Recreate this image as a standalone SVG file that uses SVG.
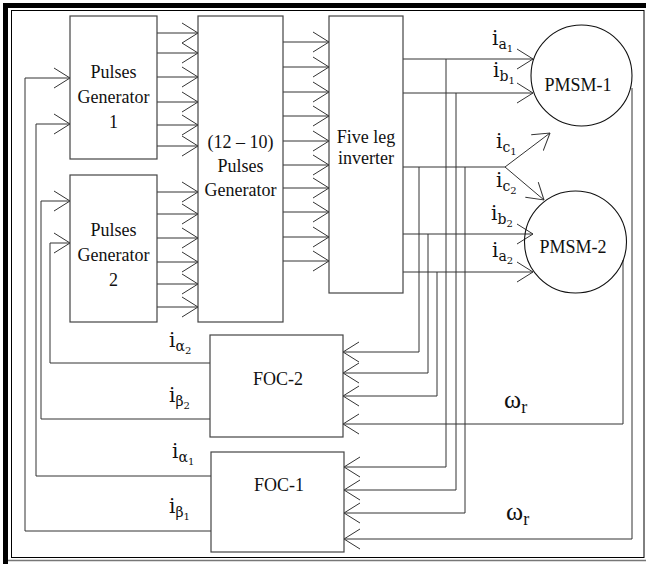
<svg xmlns="http://www.w3.org/2000/svg" width="646" height="564" viewBox="0 0 646 564">
<style>
.box{fill:#fff;stroke:#444;stroke-width:1.2}
.ln{fill:none;stroke:#333;stroke-width:1}
.arr{fill:none;stroke:#333;stroke-width:1;marker-end:url(#chev)}
.t{font-family:"Liberation Serif","Times New Roman",serif;font-size:18px;fill:#111;text-anchor:middle}
.m{font-family:"DejaVu Serif","Liberation Serif",serif;font-size:20px;fill:#111}
.s{font-size:14px}
.ss{font-size:10px}
.w{font-family:"Liberation Serif","DejaVu Serif",serif;font-size:26px;fill:#111}
</style>
<defs>
<marker id="chev" viewBox="0 0 17 22" refX="16.5" refY="11" markerWidth="17" markerHeight="22" markerUnits="userSpaceOnUse" orient="auto">
<path d="M0.5,1 L16.5,11 L0.5,21" fill="none" stroke="#333" stroke-width="1"/>
</marker>
</defs>
<rect width="646" height="564" fill="#fff"/>
<g id="frame">
<path d="M5.5,564 V5.5 H646" fill="none" stroke="#000" stroke-width="5"/>
<rect x="11.5" y="10.5" width="632.5" height="547" fill="none" stroke="#000" stroke-width="1"/>
<line x1="8" y1="560.5" x2="646" y2="560.5" stroke="#777" stroke-width="1.5"/>
</g>
<g id="connectors">
<path class="arr" d="M211,531 H25 V78 H70"/>
<path class="arr" d="M211,476 H36 V124 H70"/>
<path class="arr" d="M210,419 H41 V201 H70"/>
<path class="arr" d="M210,363 H50 V243 H70"/>
<path class="arr" d="M157,33 H198"/>
<path class="arr" d="M157,53 H198"/>
<path class="arr" d="M157,77 H198"/>
<path class="arr" d="M157,102 H198"/>
<path class="arr" d="M157,125 H198"/>
<path class="arr" d="M157,146 H198"/>
<path class="arr" d="M157,192 H198"/>
<path class="arr" d="M157,214 H198"/>
<path class="arr" d="M157,238 H198"/>
<path class="arr" d="M157,262 H198"/>
<path class="arr" d="M157,284 H198"/>
<path class="arr" d="M157,307 H198"/>
<path class="arr" d="M283,42 H329"/>
<path class="arr" d="M283,67 H329"/>
<path class="arr" d="M283,92 H329"/>
<path class="arr" d="M283,116 H329"/>
<path class="arr" d="M283,141 H329"/>
<path class="arr" d="M283,165 H329"/>
<path class="arr" d="M283,188 H329"/>
<path class="arr" d="M283,212 H329"/>
<path class="arr" d="M283,237 H329"/>
<path class="arr" d="M283,261 H329"/>
<path class="arr" d="M403,59 H533"/>
<path class="arr" d="M403,93 H533"/>
<path class="ln" d="M403,167 H505"/>
<path class="arr" d="M505,167 L550,133"/>
<path class="arr" d="M505,167 L544,200"/>
<path class="arr" d="M403,234 H533"/>
<path class="arr" d="M403,272 H533"/>
<path class="arr" d="M419,167 V352 H343"/>
<path class="arr" d="M428,234 V373 H343"/>
<path class="arr" d="M437,272 V396 H343"/>
<path class="arr" d="M623,260 V424 H343"/>
<path class="arr" d="M446,59 V467 H344"/>
<path class="arr" d="M456,93 V490 H344"/>
<path class="arr" d="M465,167 V513 H344"/>
<path class="arr" d="M632,88 V539 H344"/>
</g>
<g id="pg1">
<rect class="box" x="70" y="16" width="87" height="143"/>
<text class="t" x="113.5" y="78">Pulses</text>
<text class="t" x="113.5" y="103">Generator</text>
<text class="t" x="113.5" y="128">1</text>
</g>
<g id="pg2">
<rect class="box" x="70" y="175" width="87" height="147"/>
<text class="t" x="113.5" y="236">Pulses</text>
<text class="t" x="113.5" y="261">Generator</text>
<text class="t" x="113.5" y="286">2</text>
</g>
<g id="pg12">
<rect class="box" x="198" y="16" width="85" height="306"/>
<text class="t" x="240.5" y="148">(12 – 10)</text>
<text class="t" x="240.5" y="172">Pulses</text>
<text class="t" x="240.5" y="196">Generator</text>
</g>
<g id="inverter">
<rect class="box" x="329" y="16" width="74" height="277"/>
<text class="t" x="366" y="143">Five leg</text>
<text class="t" x="366" y="164">inverter</text>
</g>
<g id="pmsm1">
<circle cx="581.5" cy="75.5" r="50.5" fill="none" stroke="#111" stroke-width="1.1"/>
<text class="t" x="578" y="91">PMSM-1</text>
</g>
<g id="pmsm2">
<circle cx="575.5" cy="242" r="51" fill="none" stroke="#111" stroke-width="1.1"/>
<text class="t" x="573" y="253">PMSM-2</text>
</g>
<g id="foc2">
<rect class="box" x="210" y="335" width="133" height="102"/>
<text class="t" x="278" y="385">FOC-2</text>
</g>
<g id="foc1">
<rect class="box" x="211" y="452" width="133" height="100"/>
<text class="t" x="279" y="491">FOC-1</text>
</g>
<g id="labels">
<text class="m" x="492" y="45">i<tspan class="s" dy="4">a</tspan><tspan class="ss" dy="3">1</tspan></text>
<text class="m" x="493" y="77">i<tspan class="s" dy="4">b</tspan><tspan class="ss" dy="3">1</tspan></text>
<text class="m" x="496" y="148">i<tspan class="s" dy="4">c</tspan><tspan class="ss" dy="3">1</tspan></text>
<text class="m" x="496" y="187">i<tspan class="s" dy="4">c</tspan><tspan class="ss" dy="3">2</tspan></text>
<text class="m" x="491" y="220">i<tspan class="s" dy="4">b</tspan><tspan class="ss" dy="3">2</tspan></text>
<text class="m" x="492" y="257">i<tspan class="s" dy="4">a</tspan><tspan class="ss" dy="3">2</tspan></text>
<text class="m" x="169" y="347">i<tspan class="s" dy="4">α</tspan><tspan class="ss" dy="3">2</tspan></text>
<text class="m" x="169" y="402">i<tspan class="s" dy="4">β</tspan><tspan class="ss" dy="3">2</tspan></text>
<text class="m" x="172" y="458">i<tspan class="s" dy="4">α</tspan><tspan class="ss" dy="3">1</tspan></text>
<text class="m" x="169" y="513">i<tspan class="s" dy="4">β</tspan><tspan class="ss" dy="3">1</tspan></text>
<text class="w" x="504" y="408">ω<tspan font-size="18" dy="5">r</tspan></text>
<text class="w" x="506" y="520">ω<tspan font-size="18" dy="5">r</tspan></text>
</g>
</svg>
